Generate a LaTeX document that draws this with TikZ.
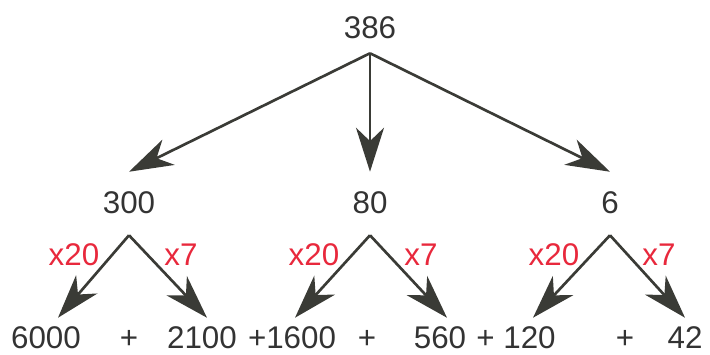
\documentclass[tikz,border=0pt]{standalone}
\usepackage{fontspec}
\setmainfont{Liberation Sans}
\usetikzlibrary{arrows.meta}
\definecolor{numgray}{RGB}{51,51,51}
\definecolor{arrgray}{RGB}{58,59,54}
\definecolor{mulred}{RGB}{232,40,60}
\begin{document}
\begin{tikzpicture}[
  x=0.75pt,y=-0.75pt,
  font=\fontsize{23.5}{28}\selectfont,
  num/.style={inner sep=0pt,anchor=base,text=numgray},
  rootnum/.style={num,text depth=11.25pt},
  midnum/.style={num,text height=30.75pt,text depth=16.5pt},
  lownum/.style={num,text height=22.5pt},
  mul/.style={inner sep=0pt,anchor=base,text=mulred},
  >={Stealth[length=33pt,width=21pt,inset=10pt]},
  arr/.style={->,draw=arrgray,line width=2pt}
]
\useasboundingbox (0,0) rectangle (710,354);
\node[rootnum] (n386) at (370,38) {386};
\node[midnum] (n300) at (129,213) {300};
\node[midnum] (n80) at (370,213) {80};
\node[midnum] (n6) at (610,213) {6};
\node[lownum] (n6000) at (46,348) {6000};
\node[lownum] (p1) at (129,348) {+};
\node[lownum] (n2100) at (202,348) {2100};
\node[lownum] (n1600) at (292,348) {+1600};
\node[lownum] (p2) at (367,348) {+};
\node[lownum] (n560) at (440,348) {560};
\node[lownum] (n120) at (516,348) {+ 120};
\node[lownum] (p3) at (625,348) {+};
\node[lownum] (n42) at (685,348) {42};
\node[mul] (m1) at (74,265) {x20};
\node[mul] (m2) at (181,265) {x7};
\node[mul] (m3) at (314,265) {x20};
\node[mul] (m4) at (421,265) {x7};
\node[mul] (m5) at (554,265) {x20};
\node[mul] (m6) at (659,265) {x7};
\draw[arr] (n386.south) -- (n300.north);
\draw[arr] (n386.south) -- (n80.north);
\draw[arr] (n386.south) -- (n6.north);
\draw[arr] (n300.south) -- ([xshift=9pt]n6000.north);
\draw[arr] (n300.south) -- ([xshift=3.75pt]n2100.north);
\draw[arr] (n80.south) -- ([xshift=2.25pt]n1600.north);
\draw[arr] (n80.south) -- ([xshift=5.25pt]n560.north);
\draw[arr] (n6.south) -- ([xshift=12.75pt]n120.north);
\draw[arr] (n6.south) -- (n42.north);
\end{tikzpicture}
\end{document}
